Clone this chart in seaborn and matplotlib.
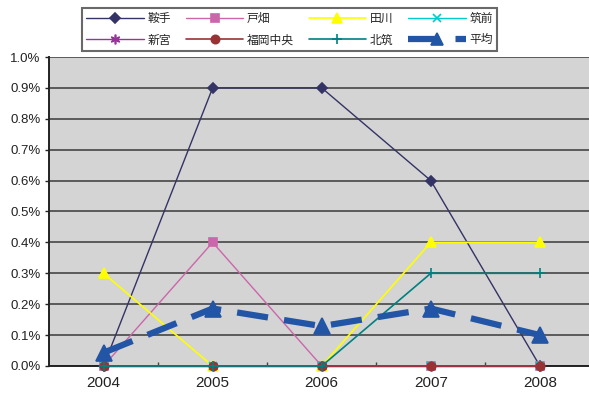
import matplotlib
matplotlib.use("Agg")
import matplotlib.pyplot as plt
import matplotlib.ticker as mticker
import seaborn as sns
import pandas as pd

years = ["2004", "2005", "2006", "2007", "2008"]
kurate = [0.0, 0.9, 0.9, 0.6, 0.0]
tobata = [0.0, 0.4, 0.0, 0.0, 0.0]
tagawa = [0.3, 0.0, 0.0, 0.4, 0.4]
chikuzen = [0.0, 0.0, 0.0, 0.0, 0.0]
shingu = [0.0, 0.0, 0.0, 0.0, 0.0]
fukuoka_chuo = [0.0, 0.0, 0.0, 0.0, 0.0]
hokuchiku = [0.0, 0.0, 0.0, 0.3, 0.3]
average = [0.043, 0.186, 0.129, 0.186, 0.100]

series_names = ["鞍手", "戸畑", "田川", "筑前", "新宮", "福岡中央", "北筑", "平均"]
series_values = [kurate, tobata, tagawa, chikuzen, shingu, fukuoka_chuo, hokuchiku, average]

styles = {
    "鞍手": dict(color="#333366", marker="D", markersize=5.5, lw=1.0),
    "戸畑": dict(color="#CC66AA", marker="s", markersize=6, lw=1.0),
    "田川": dict(color="#FFFF00", marker="^", markersize=7, lw=1.2),
    "筑前": dict(color="#00CCCC", marker="x", markersize=6, lw=1.0),
    "新宮": dict(color="#993399", marker=(6, 2, 0), markersize=7, lw=1.0),
    "福岡中央": dict(color="#993333", marker="o", markersize=6, lw=1.2),
    "北筑": dict(color="#008080", marker="+", markersize=7, lw=1.2),
    "平均": dict(color="#2255A5", marker="^", markersize=12, lw=4.5),
}

rows = []
for name, vals in zip(series_names, series_values):
    for i, v in enumerate(vals):
        rows.append({"series": name, "pos": i, "value": v})
df = pd.DataFrame(rows)

sns.set_theme(style="white")
plt.rcParams["font.family"] = ["Liberation Sans Narrow", "Liberation Sans", "DejaVu Sans"]
cjk = ["Noto Sans CJK JP", "DejaVu Sans"]

fig = plt.figure(figsize=(5.89, 3.94), dpi=100)
ax = fig.add_axes([49 / 589, 28 / 394, 1 - 49 / 589, (366 - 57) / 394])
ax.set_facecolor("#D4D4D4")

handles = {}
for name in series_names:
    st = styles[name]
    sub = df[df["series"] == name]
    kw = dict(color=st["color"], marker=st["marker"], markersize=st["markersize"],
              linewidth=st["lw"], markeredgecolor=st["color"], markerfacecolor=st["color"],
              markeredgewidth=1.2, clip_on=False, zorder=4)
    if name == "平均":
        kw.update(dashes=(5, 2.6), zorder=6)
    sns.lineplot(data=sub, x="pos", y="value", ax=ax, sort=False, legend=False,
                 estimator=None, **kw)
    handles[name] = ax.lines[-1]

ax.set_xlim(-0.5, 4.45)
ax.set_ylim(0, 1.0)
ax.yaxis.set_major_locator(mticker.MultipleLocator(0.1))
ax.yaxis.set_major_formatter(mticker.FuncFormatter(lambda v, p: f"{v:.1f}%"))
ax.set_xticks(range(len(years)))
ax.set_xticklabels(years)
ax.xaxis.set_minor_locator(mticker.FixedLocator([0.5, 1.5, 2.5, 3.5]))
ax.set_xlabel("")
ax.set_ylabel("")

ax.grid(axis="y", color="#5A5A5A", linewidth=1.4, zorder=1)
ax.set_axisbelow(True)
for side in ["left", "bottom"]:
    ax.spines[side].set_color("#222222")
    ax.spines[side].set_linewidth(1.4)
ax.spines["top"].set_visible(False)
ax.spines["right"].set_visible(False)

ax.tick_params(axis="y", which="major", left=True, length=3, width=1, color="#222222",
               labelsize=9.5, labelcolor="#222222", pad=3)
ax.tick_params(axis="x", which="major", bottom=False, length=0, labelsize=11,
               labelcolor="#222222", pad=7)
ax.tick_params(axis="x", which="minor", bottom=True, direction="in", length=3,
               width=1, color="#444444")

order = ["鞍手", "新宮", "戸畑", "福岡中央", "田川", "北筑", "筑前", "平均"]
leg = fig.legend([handles[n] for n in order], order, ncol=4, mode="expand",
                 loc="upper left",
                 bbox_to_anchor=(82 / 589, 1 - 47 / 394, 415 / 589, 39 / 394),
                 bbox_transform=fig.transFigure,
                 prop={"family": cjk, "size": 8.5}, frameon=True, fancybox=False,
                 handlelength=4.9, handletextpad=0.3, columnspacing=1.0,
                 borderpad=0.35, labelspacing=0.7, borderaxespad=0)
leg.legend_handles[-1].set_markersize(8)
leg.get_frame().set_edgecolor("#444444")
leg.get_frame().set_linewidth(1.5)
leg.get_frame().set_facecolor("white")

fig.savefig("out.png", dpi=100)
